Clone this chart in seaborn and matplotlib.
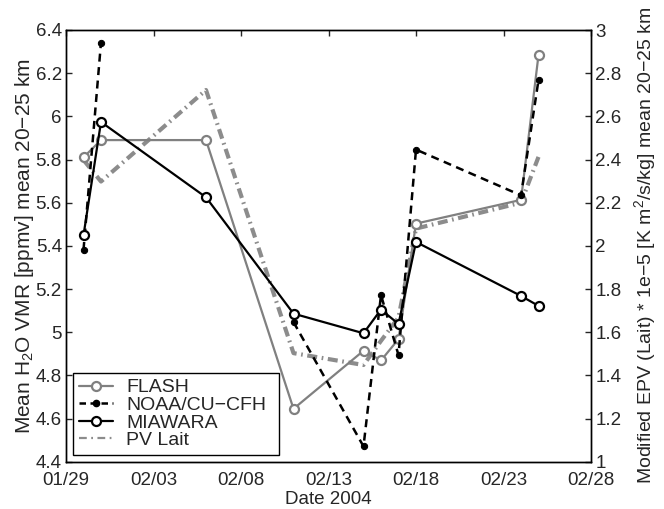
import numpy as np
import pandas as pd
import matplotlib
matplotlib.use("Agg")
import matplotlib.pyplot as plt
import matplotlib.dates as mdates
from matplotlib.lines import Line2D
import seaborn as sns

# ---- data -------------------------------------------------------------
dates = ["2004-01-30", "2004-01-31", "2004-02-06", "2004-02-11", "2004-02-15",
         "2004-02-16", "2004-02-17", "2004-02-18", "2004-02-24", "2004-02-25"]

flash = [5.81, 5.89, 5.89, 4.645, 4.914, 4.869, 4.968, 5.503, 5.613, 6.284]
# no NOAA sonde between 01/31 and 02/11 -> gap in the line
noaa = [5.381, 6.342, np.nan, 5.047, 4.471, 5.172, 4.894, 5.846, 5.634, 6.168]
miawara = [5.449, 5.974, 5.625, 5.086, 4.995, 5.105, 5.038, 5.418, 5.168, 5.122]
pv_lait = [2.398, 2.298, 2.722, 1.503, 1.448, 1.56, 1.668, 2.08, 2.20, 2.412]

xticks = ["2004-01-29", "2004-02-03", "2004-02-08", "2004-02-13",
          "2004-02-18", "2004-02-23", "2004-02-28"]
left_ticks = [4.4, 4.6, 4.8, 5.0, 5.2, 5.4, 5.6, 5.8, 6.0, 6.2, 6.4]
right_ticks = [1, 1.2, 1.4, 1.6, 1.8, 2, 2.2, 2.4, 2.6, 2.8, 3]

df = pd.DataFrame({"date": pd.to_datetime(dates), "FLASH": flash,
                   "NOAA": noaa, "MIAWARA": miawara, "PV": pv_lait})
df["noaa_seg"] = np.cumsum(np.isnan(df["NOAA"].to_numpy()))

# ---- style ------------------------------------------------------------
sns.set_style("white")
plt.rcParams["font.family"] = ["Liberation Sans", "DejaVu Sans"]
plt.rcParams["mathtext.fontset"] = "custom"
plt.rcParams["mathtext.rm"] = "Liberation Sans"
plt.rcParams["mathtext.it"] = "Liberation Sans:italic"
plt.rcParams["axes.linewidth"] = 1.0
FS = 13.5
GRAY = "0.5"

fig = plt.figure(figsize=(6.64, 5.09), dpi=100)
ax = fig.add_axes([66 / 664, (509 - 461.7) / 509, 525 / 664, 431.7 / 509])
ax2 = ax.twinx()

# PV on the right-hand axis (drawn underneath the water vapour series)
sns.lineplot(data=df, x="date", y="PV", ax=ax2, color="0.55", lw=3.0,
             sort=False, estimator=None)
ax2.lines[-1].set_dashes((2.4, 1.1, 0.4, 1.1))

sns.lineplot(data=df, x="date", y="FLASH", ax=ax, color=GRAY, lw=1.6,
             marker="o", ms=6.5, mfc="white", mec=GRAY, mew=1.6,
             sort=False, estimator=None)
sns.lineplot(data=df.dropna(subset=["NOAA"]), x="date", y="NOAA",
             units="noaa_seg", estimator=None, ax=ax, color="black", lw=1.8,
             marker="o", ms=4.5, mfc="black", mec="black", sort=False)
for ln in ax.lines[1:]:
    ln.set_dashes((3.2, 2.2))
sns.lineplot(data=df, x="date", y="MIAWARA", ax=ax, color="black", lw=1.6,
             marker="o", ms=6.5, mfc="white", mec="black", mew=1.6,
             sort=False, estimator=None)

# ---- axes -------------------------------------------------------------
tick_dates = pd.to_datetime(xticks)
ax.set_xlim(tick_dates[0], tick_dates[-1])
ax.set_xticks(tick_dates)
ax.xaxis.set_major_formatter(mdates.DateFormatter("%m/%d"))
ax.set_ylim(4.4, 6.4)
ax.set_yticks(left_ticks)
ax.set_yticklabels([f"{v:g}" for v in left_ticks])
ax2.set_ylim(1, 3)
ax2.set_yticks(right_ticks)
ax2.set_yticklabels([f"{v:g}" for v in right_ticks])

ax.tick_params(axis="both", direction="in", length=4, width=1,
               labelsize=FS, top=True, right=False, pad=3)
ax.tick_params(axis="x", pad=7.5)
ax2.tick_params(axis="y", direction="in", length=4, width=1,
                labelsize=FS, pad=3)
for a in (ax, ax2):
    for s in a.spines.values():
        s.set_color("black")
        s.set_linewidth(1.0)

ax.set_xlabel("Date 2004", fontsize=FS)
ax.xaxis.set_label_coords(0.5, -0.068)
ax.set_ylabel("Mean H$_2$O VMR [ppmv] mean 20\u221225 km", fontsize=15)
ax.yaxis.set_label_coords(-0.058, 0.5)
ax2.set_ylabel("Modified EPV (Lait) * 1e\u22125 [K m$^2$/s/kg] mean 20\u221225 km",
               fontsize=14)
ax2.yaxis.set_label_coords(1.078, 0.5)

# ---- legend -----------------------------------------------------------
handles = [
    Line2D([], [], color=GRAY, lw=1.6, marker="o", ms=6.5, mfc="white",
           mec=GRAY, mew=1.6),
    Line2D([], [], color="black", lw=1.8, marker="o", ms=4.5, mfc="black",
           dashes=(2.6, 1.8)),
    Line2D([], [], color="black", lw=1.6, marker="o", ms=6.5, mfc="white",
           mec="black", mew=1.6),
    Line2D([], [], color="0.55", lw=1.6, dashes=(3.5, 2.0, 0.8, 2.0)),
]
labels = ["FLASH", "NOAA/CU\u2212CFH", "MIAWARA", "PV Lait"]
leg = ax.legend(handles, labels, loc="lower left",
                bbox_to_anchor=(0.0133, 0.0155, 0.392, 0.216), mode="expand",
                fontsize=14, numpoints=1, handlelength=1.75, handletextpad=0.7,
                borderaxespad=0, borderpad=0.3, labelspacing=0.0,
                fancybox=False, framealpha=1, edgecolor="black")
leg.get_frame().set_linewidth(1.0)
leg.set_zorder(10)
ax.set_zorder(ax2.get_zorder() + 1)
ax.patch.set_visible(False)

fig.savefig("out.png", dpi=100)
